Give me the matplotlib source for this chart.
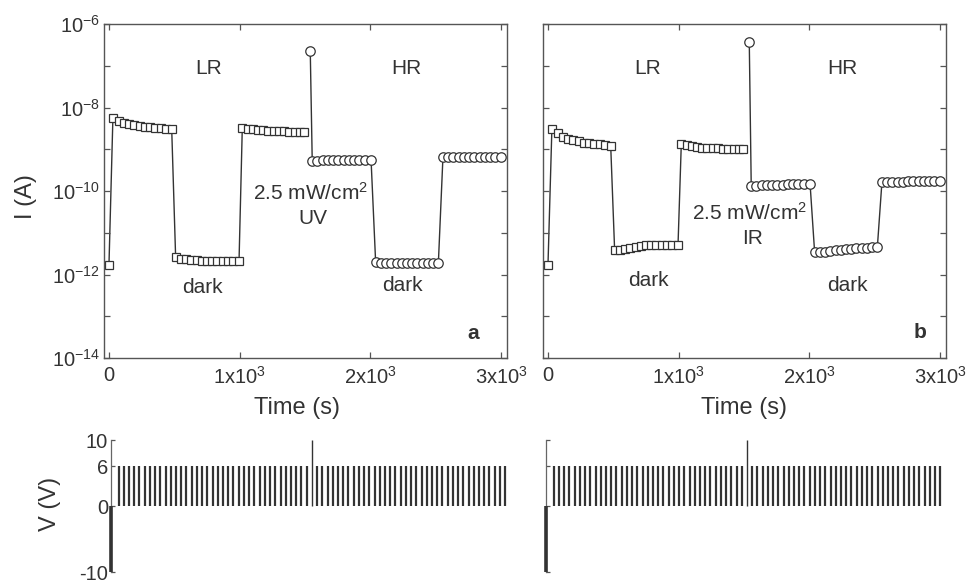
import matplotlib
matplotlib.use("Agg")
import matplotlib.pyplot as plt
from matplotlib.ticker import FixedLocator, NullLocator

plt.rcParams['font.family'] = ['Liberation Sans', 'DejaVu Sans']
plt.rcParams['mathtext.default'] = 'regular'

# sampling times of the read-out current (s), shared by both panels
time_s = [0,
          30, 75, 115, 155, 195, 235, 275, 315, 355, 395, 435, 480,
          510, 550, 590, 630, 670, 710, 750, 790, 830, 870, 910, 950, 995,
          1020, 1060, 1100, 1140, 1180, 1220, 1260, 1300, 1340, 1380, 1420, 1460, 1495,
          1540,
          1555, 1595, 1635, 1675, 1715, 1755, 1795, 1835, 1875, 1915, 1955, 2005,
          2040, 2080, 2120, 2160, 2200, 2240, 2280, 2320, 2360, 2400, 2440, 2480, 2520,
          2555, 2595, 2635, 2675, 2715, 2755, 2795, 2835, 2875, 2915, 2955, 3000]
n_lr = 39  # first points belong to the low-resistance state, the rest to the high one

# current under UV (a)
current_uv = [1.7e-12,
              5.5e-9, 4.8e-9, 4.3e-9, 4.0e-9, 3.8e-9, 3.6e-9, 3.5e-9, 3.4e-9, 3.3e-9, 3.2e-9, 3.1e-9, 3.0e-9,
              2.6e-12, 2.4e-12, 2.3e-12, 2.2e-12, 2.2e-12, 2.15e-12, 2.1e-12, 2.1e-12, 2.1e-12, 2.1e-12,
              2.1e-12, 2.1e-12, 2.1e-12,
              3.3e-9, 3.1e-9, 3.0e-9, 2.9e-9, 2.85e-9, 2.8e-9, 2.75e-9, 2.7e-9, 2.7e-9, 2.65e-9, 2.6e-9,
              2.6e-9, 2.6e-9,
              2.2e-7,
              5.2e-10, 5.3e-10, 5.4e-10, 5.4e-10, 5.5e-10, 5.5e-10, 5.5e-10, 5.5e-10, 5.6e-10, 5.6e-10,
              5.6e-10, 5.6e-10,
              2.0e-12, 1.9e-12, 1.9e-12, 1.9e-12, 1.9e-12, 1.9e-12, 1.9e-12, 1.9e-12, 1.9e-12, 1.9e-12,
              1.9e-12, 1.9e-12, 1.9e-12,
              6.5e-10, 6.6e-10, 6.6e-10, 6.7e-10, 6.7e-10, 6.7e-10, 6.7e-10, 6.7e-10, 6.7e-10, 6.7e-10,
              6.7e-10, 6.7e-10]

# current under IR (b)
current_ir = [1.65e-12,
              3.1e-9, 2.4e-9, 2.0e-9, 1.8e-9, 1.65e-9, 1.55e-9, 1.45e-9, 1.4e-9, 1.35e-9, 1.3e-9, 1.25e-9, 1.2e-9,
              3.8e-12, 3.8e-12, 4.0e-12, 4.3e-12, 4.6e-12, 4.8e-12, 5.0e-12, 5.0e-12, 5.1e-12, 5.1e-12,
              5.2e-12, 5.2e-12, 5.2e-12,
              1.35e-9, 1.25e-9, 1.2e-9, 1.15e-9, 1.1e-9, 1.1e-9, 1.05e-9, 1.05e-9, 1.0e-9, 1.0e-9, 1.0e-9,
              1.0e-9, 1.0e-9,
              3.7e-7,
              1.3e-10, 1.35e-10, 1.4e-10, 1.4e-10, 1.4e-10, 1.4e-10, 1.4e-10, 1.45e-10, 1.45e-10, 1.45e-10,
              1.45e-10, 1.5e-10,
              3.4e-12, 3.4e-12, 3.5e-12, 3.7e-12, 3.8e-12, 3.9e-12, 4.0e-12, 4.1e-12, 4.2e-12, 4.3e-12,
              4.4e-12, 4.5e-12, 4.6e-12,
              1.65e-10, 1.65e-10, 1.65e-10, 1.65e-10, 1.65e-10, 1.7e-10, 1.7e-10, 1.7e-10, 1.7e-10, 1.7e-10,
              1.7e-10, 1.7e-10]

# voltage programme: read pulses, one set pulse, one reset pulse
read_t = [60, 100, 140, 180, 220, 260, 300, 340, 380, 420, 460, 500, 540, 580, 620, 660, 700, 740,
          780, 820, 860, 900, 940, 980, 1020, 1060, 1100, 1140, 1180, 1220, 1260, 1300, 1340, 1380,
          1420, 1460, 1500, 1580, 1620, 1660, 1700, 1740, 1780, 1820, 1860, 1900, 1940, 1980,
          2020, 2060, 2100, 2140, 2180, 2220, 2260, 2300, 2340, 2380, 2420, 2460, 2500, 2540, 2580,
          2620, 2660, 2700, 2740, 2780, 2820, 2860, 2900, 2940, 2980, 3020]
read_v = 6
set_t, set_v = 1540, 10
reset_t, reset_v = 0, -10

y_ticks = [1e-14, 1e-13, 1e-12, 1e-11, 1e-10, 1e-9, 1e-8, 1e-7, 1e-6]
x_ticks = [0, 1000, 2000, 3000]
x_ticklabels = ['0', '$1x10^{3}$', '$2x10^{3}$', '$3x10^{3}$']
v_ticks = [-10, 0, 6, 10]

ink = '#333333'
spine_col = '#555555'
W, H = 970, 583


def frame(left, top, right, bottom):
    return [left / W, 1 - bottom / H, (right - left) / W, (bottom - top) / H]


fig = plt.figure(figsize=(9.7, 5.83), dpi=100)
fig.patch.set_facecolor('white')

ax_a = fig.add_axes(frame(104, 24, 507, 358))
ax_b = fig.add_axes(frame(543, 24, 946, 358))
ax_va = fig.add_axes(frame(110.7, 440, 513, 572))
ax_vb = fig.add_axes(frame(546, 440, 948, 572))


def note(ax, t, logi, txt, **kw):
    ax.text(t, 10.0 ** logi, txt, ha='center', va='center', fontsize=15, color=ink, **kw)


def current_panel(ax, current, show_ylabels):
    # LR and HR runs are drawn as two separate traces
    ax.plot(time_s[:n_lr], current[:n_lr], color=ink, lw=1.0, zorder=1)
    ax.plot(time_s[n_lr:], current[n_lr:], color=ink, lw=1.0, zorder=1)
    ax.plot(time_s[:n_lr], current[:n_lr], 's', ms=6.3, mfc='white', mec=ink, mew=0.9, zorder=2)
    ax.plot(time_s[n_lr:], current[n_lr:], 'o', ms=6.8, mfc='white', mec=ink, mew=0.9, zorder=2)
    ax.set_yscale('log')
    ax.set_ylim(1e-14, 1e-6)
    ax.set_xlim(-38, 3045)
    ax.yaxis.set_major_locator(FixedLocator(y_ticks))
    ax.yaxis.set_minor_locator(NullLocator())
    if show_ylabels:
        ax.set_yticklabels(['$10^{%d}$' % e if e % 2 == 0 else '' for e in range(-14, -5)])
    else:
        ax.set_yticklabels([])
    ax.set_xticks(x_ticks)
    ax.set_xticklabels(x_ticklabels)
    ax.tick_params(direction='in', length=4, width=0.9, color=spine_col, top=True, right=True,
                   labelsize=14.5, labelcolor=ink)
    ax.tick_params(axis='x', pad=6)
    ax.tick_params(axis='y', pad=3)
    for s in ax.spines.values():
        s.set_color(spine_col)
        s.set_linewidth(1.0)


current_panel(ax_a, current_uv, True)
note(ax_a, 760, -7.06, 'LR')
note(ax_a, 2272, -7.06, 'HR')
note(ax_a, 717, -12.30, 'dark')
note(ax_a, 2247, -12.26, 'dark')
note(ax_a, 1544, -10.05, '2.5 mW/cm$^2$')
note(ax_a, 1563, -10.66, 'UV')
note(ax_a, 2790, -13.41, 'a', fontweight='bold')

current_panel(ax_b, current_ir, False)
note(ax_b, 763, -7.06, 'LR')
note(ax_b, 2255, -7.06, 'HR')
note(ax_b, 768, -12.14, 'dark')
note(ax_b, 2293, -12.26, 'dark')
note(ax_b, 1540, -10.52, '2.5 mW/cm$^2$')
note(ax_b, 1563, -11.14, 'IR')
note(ax_b, 2846, -13.39, 'b', fontweight='bold')


def voltage_panel(ax, show_labels):
    ax.vlines(read_t, 0, read_v, color=ink, lw=1.6)
    ax.vlines(set_t, 0, set_v, color=ink, lw=1.0)
    ax.vlines(reset_t, reset_v, 0, color=ink, lw=2.6, clip_on=False, zorder=3)
    ax.set_xlim(0, 3080)
    ax.set_ylim(-10, 10)
    ax.set_xticks([])
    ax.set_yticks(v_ticks)
    if show_labels:
        ax.set_yticklabels([str(v) for v in v_ticks])
    else:
        ax.set_yticklabels([])
    ax.tick_params(axis='y', direction='in', length=3, width=0.9, color=spine_col,
                   labelsize=14.5, labelcolor=ink, pad=2)
    for side in ('top', 'right', 'bottom'):
        ax.spines[side].set_visible(False)
    ax.spines['left'].set_color('#666666')
    ax.spines['left'].set_linewidth(0.9)
    ax.patch.set_alpha(0)


voltage_panel(ax_va, True)
voltage_panel(ax_vb, False)

fig.text(297 / W, 1 - 408 / H, 'Time (s)', ha='center', va='center', fontsize=17, color=ink)
fig.text(744 / W, 1 - 408 / H, 'Time (s)', ha='center', va='center', fontsize=17, color=ink)
fig.text(26 / W, 1 - 197 / H, 'I (A)', rotation=90, ha='center', va='center', fontsize=17, color=ink)
fig.text(50 / W, 1 - 504 / H, 'V (V)', rotation=90, ha='center', va='center', fontsize=17, color=ink)

fig.savefig('out.png', dpi=100)
